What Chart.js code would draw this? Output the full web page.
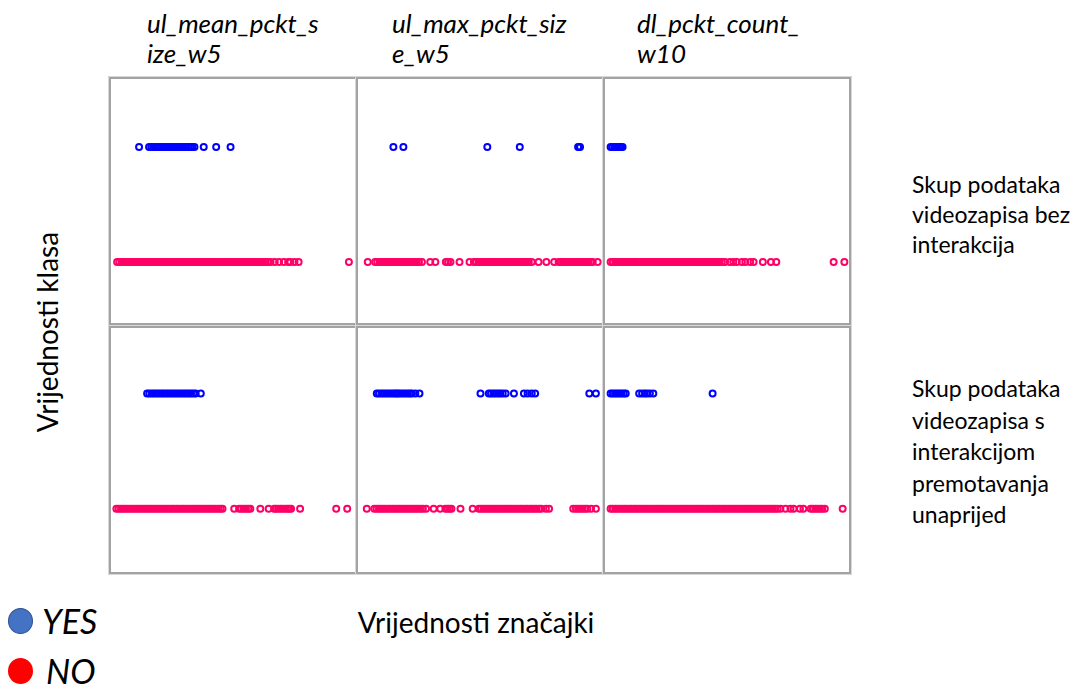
<!DOCTYPE html>
<html>
<head>
<meta charset="utf-8">
<script src="https://cdn.jsdelivr.net/npm/chart.js@4/dist/chart.umd.min.js"></script>
<style>
  html, body { margin: 0; padding: 0; background: #fff; }
  body { width: 1081px; height: 686px; position: relative; overflow: hidden; font-family: Lato, "Open Sans", sans-serif; color: #000; }
  .panel { position: absolute; width: 244px; height: 244px; border: 2px solid #a3a3a3; box-shadow: 0 0 0 1px #d8d8d8; background: #fff; }
  .head { position: absolute; font-style: italic; font-size: 26px; line-height: 30px; white-space: pre; }
  .side { position: absolute; left: 912px; font-size: 23px; line-height: 30px; white-space: pre; }
  .ylab { position: absolute; left: 47px; top: 332px; font-size: 28px; white-space: nowrap; transform: translate(-50%, -50%) rotate(-90deg); }
  .xlab { position: absolute; left: 476px; top: 622px; font-size: 28px; white-space: nowrap; transform: translate(-50%, -50%); }
  .dot { position: absolute; width: 25px; height: 26px; border-radius: 50%; }
  .leg { position: absolute; font-style: italic; font-size: 34px; line-height: 40px; }
</style>
</head>
<body>

<div class="head" style="left:147px; top:8px;">ul_mean_pckt_s
ize_w5</div>
<div class="head" style="left:392px; top:8px;">ul_max_pckt_siz
e_w5</div>
<div class="head" style="left:637px; top:8px;">dl_pckt_count_
w10</div>

<div class="panel" style="left:109px; top:77px;"><canvas id="c0"></canvas></div>
<div class="panel" style="left:356px; top:77px;"><canvas id="c1"></canvas></div>
<div class="panel" style="left:603px; top:77px;"><canvas id="c2"></canvas></div>
<div class="panel" style="left:109px; top:326px;"><canvas id="c3"></canvas></div>
<div class="panel" style="left:356px; top:326px;"><canvas id="c4"></canvas></div>
<div class="panel" style="left:603px; top:326px;"><canvas id="c5"></canvas></div>

<div class="side" style="top:169px;">Skup podataka
videozapisa bez
interakcija</div>
<div class="side" style="top:373px; line-height:31.5px;">Skup podataka
videozapisa s
interakcijom
premotavanja
unaprijed</div>

<div class="ylab">Vrijednosti klasa</div>
<div class="xlab">Vrijednosti značajki</div>

<div class="dot" style="left:8px; top:608px; background:#4472c4; border:1px solid #2f528f; box-sizing:border-box;"></div>
<div class="leg" style="left:42px; top:601px;">YES</div>
<div class="dot" style="left:8px; top:658px; background:#ff0000;"></div>
<div class="leg" style="left:46px; top:651px;">NO</div>

<script>
// class values on the y axis
const classYes = 1;
const classNo = 0;

// normalised feature values (0-100), dataset without interaction
const bezYesMean = [11.5, 15.6, 16.5, 17.3, 18.2, 19.0, 19.9, 20.7, 21.6, 22.4, 23.3, 24.1, 25.0, 25.8, 26.7, 27.5, 28.4, 29.2, 30.1, 30.9, 31.8, 32.6, 33.3, 34.2, 38.0, 43.1, 49.0];
const bezNoMean = [2.5, 3.4, 4.4, 5.3, 6.3, 7.2, 8.2, 9.1, 10.1, 11.0, 12.0, 12.9, 13.9, 14.8, 15.8, 16.7, 17.7, 18.6, 19.6, 20.5, 21.5, 22.4, 23.4, 24.3, 25.3, 26.2, 27.2, 28.1, 29.1, 30.0, 31.0, 31.9, 32.9, 33.8, 34.8, 35.7, 36.7, 37.6, 38.6, 39.5, 40.5, 41.4, 42.4, 43.3, 44.3, 45.2, 46.2, 47.1, 48.1, 49.0, 50.0, 50.9, 51.9, 52.8, 53.8, 54.7, 55.7, 56.6, 57.6, 58.5, 59.5, 60.4, 61.4, 62.3, 63.3, 64.2, 65.4, 67.1, 68.9, 70.8, 72.6, 73.5, 75.2, 76.9, 97.5];

const bezYesMax = [14.5, 18.6, 53.0, 66.3, 90.2, 90.6, 91.0];
const bezNoMax = [4.0, 7.0, 7.9, 8.9, 9.8, 10.8, 11.7, 12.7, 13.6, 14.6, 15.5, 16.5, 17.4, 18.4, 19.3, 20.3, 21.2, 22.2, 23.1, 24.1, 25.0, 26.2, 29.6, 31.7, 36.0, 36.9, 37.9, 41.6, 45.7, 47.5, 48.4, 49.4, 50.3, 51.3, 52.2, 53.2, 54.1, 55.1, 56.0, 57.0, 57.9, 58.9, 59.8, 60.8, 61.7, 62.7, 63.6, 64.6, 65.5, 66.5, 67.4, 68.4, 69.3, 70.0, 71.2, 74.0, 77.2, 80.4, 82.2, 83.1, 84.0, 85.0, 85.9, 86.9, 87.8, 88.8, 89.7, 90.7, 91.6, 92.6, 93.5, 94.5, 95.4, 96.2, 98.2];

const bezYesCount = [2.3, 3.0, 3.8, 4.5, 5.3, 6.0, 6.6, 7.2];
const bezNoCount = [2.3, 3.2, 4.2, 5.1, 6.1, 7.0, 8.0, 8.9, 9.9, 10.8, 11.8, 12.7, 13.7, 14.6, 15.6, 16.5, 17.5, 18.4, 19.4, 20.3, 21.3, 22.2, 23.2, 24.1, 25.1, 26.0, 27.0, 27.9, 28.9, 29.8, 30.8, 31.7, 32.7, 33.6, 34.6, 35.5, 36.5, 37.4, 38.4, 39.3, 40.3, 41.2, 42.2, 43.1, 44.1, 45.0, 46.0, 46.9, 47.9, 49.2, 51.2, 52.6, 54.0, 56.1, 57.5, 59.5, 60.9, 64.7, 68.0, 70.2, 93.7, 98.1];

// dataset with fast-forward interaction
const premYesMean = [14.8, 15.7, 16.7, 17.6, 18.6, 19.5, 20.5, 21.4, 22.4, 23.3, 24.3, 25.2, 26.2, 27.1, 28.1, 29.0, 30.0, 30.9, 31.9, 32.8, 33.8, 34.7, 36.8];
const premNoMean = [2.2, 3.1, 4.1, 5.0, 6.0, 6.9, 7.9, 8.8, 9.8, 10.7, 11.7, 12.6, 13.6, 14.5, 15.5, 16.4, 17.4, 18.3, 19.3, 20.2, 21.2, 22.1, 23.1, 24.0, 25.0, 25.9, 26.9, 27.8, 28.8, 29.7, 30.7, 31.6, 32.6, 33.5, 34.5, 35.4, 36.4, 37.3, 38.3, 39.2, 40.2, 41.1, 42.1, 43.0, 44.0, 44.9, 45.7, 50.5, 52.5, 53.4, 54.4, 55.3, 56.3, 57.1, 61.2, 64.6, 66.9, 67.6, 68.5, 69.5, 70.4, 71.4, 72.3, 73.0, 73.8, 77.5, 92.3, 96.8];

const premYesMax = [7.7, 8.6, 9.6, 10.5, 11.5, 12.4, 13.4, 14.3, 15.2, 15.9, 16.6, 17.5, 18.5, 19.4, 20.4, 21.3, 22.1, 23.5, 25.2, 50.2, 53.6, 54.5, 55.5, 56.4, 57.4, 58.3, 59.3, 60.5, 63.9, 68.0, 69.5, 71.2, 72.6, 94.8, 97.5];
const premNoMax = [3.6, 6.7, 7.6, 8.6, 9.5, 10.5, 11.4, 12.4, 13.3, 14.3, 15.2, 16.2, 17.1, 18.1, 19.0, 20.0, 20.9, 21.9, 22.8, 23.8, 24.7, 25.7, 26.6, 27.9, 31.0, 33.7, 35.8, 36.7, 37.5, 38.3, 42.0, 47.0, 49.5, 50.4, 51.4, 52.3, 53.3, 54.2, 55.2, 56.1, 57.1, 58.0, 59.0, 59.9, 60.9, 61.8, 62.8, 63.7, 64.7, 65.6, 66.6, 67.5, 68.5, 69.4, 70.4, 71.3, 72.3, 73.2, 74.2, 75.1, 77.0, 78.3, 88.2, 89.3, 90.2, 91.2, 92.1, 93.1, 94.0, 95.5, 97.5];

const premYesCount = [2.3, 3.2, 4.1, 5.0, 5.9, 6.8, 7.7, 8.5, 14.0, 15.2, 16.3, 17.2, 18.4, 19.8, 44.1];
const premNoCount = [2.3, 3.2, 4.2, 5.1, 6.1, 7.0, 8.0, 8.9, 9.9, 10.8, 11.8, 12.7, 13.7, 14.6, 15.6, 16.5, 17.5, 18.4, 19.4, 20.3, 21.3, 22.2, 23.2, 24.1, 25.1, 26.0, 27.0, 27.9, 28.9, 29.8, 30.8, 31.7, 32.7, 33.6, 34.6, 35.5, 36.5, 37.4, 38.4, 39.3, 40.3, 41.2, 42.2, 43.1, 44.1, 45.0, 46.0, 46.9, 47.9, 48.8, 49.8, 50.7, 51.7, 52.6, 53.6, 54.5, 55.5, 56.4, 57.4, 58.3, 59.3, 60.2, 61.2, 62.1, 63.1, 64.0, 65.0, 65.9, 66.9, 67.8, 68.8, 69.7, 70.7, 71.9, 74.0, 76.0, 77.3, 79.9, 81.3, 84.3, 85.2, 86.2, 87.1, 88.1, 89.0, 90.1, 97.4];

const panels = [
  ['c0', bezYesMean, bezNoMean, 0],
  ['c1', bezYesMax, bezNoMax, 0],
  ['c2', bezYesCount, bezNoCount, 0],
  ['c3', premYesMean, premNoMean, 1],
  ['c4', premYesMax, premNoMax, 1],
  ['c5', premYesCount, premNoCount, 1]
];

// vertical range per row so the two strips sit where they do in the figure
const rowRange = [[-0.53, 1.59], [-0.55, 1.57]];

function strip(values, cls, color) {
  return {
    data: values.map(v => ({ x: v, y: cls })),
    pointRadius: 3,
    pointBorderWidth: 2,
    pointBorderColor: color,
    pointBackgroundColor: 'rgba(0,0,0,0)'
  };
}

panels.forEach(([id, yes, no, row]) => {
  new Chart(document.getElementById(id), {
    type: 'scatter',
    data: {
      datasets: [
        strip(yes, classYes, '#0000ff'),
        strip(no, classNo, '#ff0066')
      ]
    },
    options: {
      responsive: true,
      maintainAspectRatio: false,
      animation: false,
      events: [],
      layout: { padding: 0, autoPadding: false },
      plugins: { legend: { display: false }, tooltip: { enabled: false } },
      scales: {
        x: { type: 'linear', min: 0, max: 100, display: false },
        y: { min: rowRange[row][0], max: rowRange[row][1], display: false }
      }
    }
  });
});
</script>
</body>
</html>
